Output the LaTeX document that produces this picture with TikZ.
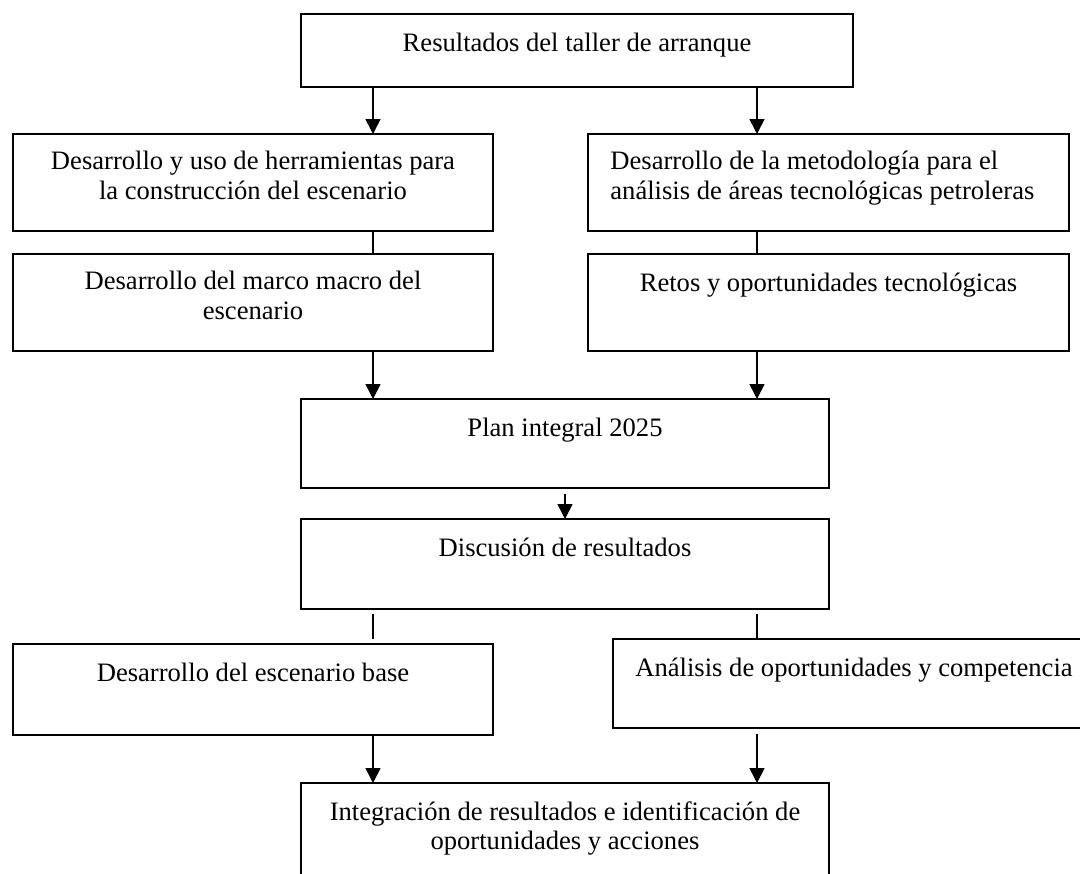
\documentclass[tikz,border=0pt]{standalone}
\usepackage{fontspec}
\setmainfont{Liberation Serif}
\usetikzlibrary{arrows.meta}
\begin{document}
\begin{tikzpicture}[x=0.5pt,y=-0.5pt,
  box/.style={draw, line width=0.8pt, rectangle, inner sep=0pt, outer sep=0pt},
  lbl/.style={anchor=north, inner sep=0pt, align=center,
    font=\fontsize{13.3}{14.75}\selectfont, execute at begin node=\strut},
  lblleft/.style={lbl, anchor=north west, align=left},
  link/.style={line width=0.8pt},
  flow/.style={line width=0.8pt, -{Triangle[length=7.5pt,width=7.5pt]}}]
\useasboundingbox (0,0) rectangle (1080,873);

% column axes for the connectors
\coordinate (cl) at (373,0);
\coordinate (cm) at (565,0);
\coordinate (cr) at (757,0);

% boxes
\node[box, minimum width=276pt, minimum height=36.5pt] (top) at (577,50.5) {};
\node[box, minimum width=240pt, minimum height=48.5pt] (herr) at (253,182.5) {};
\node[box, minimum width=240.5pt, minimum height=48.5pt] (meto) at (828.5,182.5) {};
\node[box, minimum width=240pt, minimum height=48.5pt] (marco) at (253,302.5) {};
\node[box, minimum width=240.5pt, minimum height=48.5pt] (retos) at (828.5,302.5) {};
\node[box, minimum width=264pt, minimum height=44.5pt] (plan) at (565,443.5) {};
\node[box, minimum width=264pt, minimum height=45pt] (disc) at (565,564) {};
\node[box, minimum width=240pt, minimum height=45.5pt] (base) at (253,689.5) {};
\node[box, minimum width=241pt, minimum height=44.5pt] (anal) at (854,683.5) {};
\node[box, minimum width=264pt, minimum height=55pt] (integ) at (565,838) {};

% texts
\node[lbl] (top-t) at ([yshift=-8pt]top.north) {Resultados del taller de arranque};
\node[lbl] (herr-t) at ([yshift=-8.4pt]herr.north) {Desarrollo y uso de herramientas para\\la construcción del escenario};
\node[lblleft] (meto-t) at ([yshift=-8.4pt]meto.north -| 610,0) {Desarrollo de la metodología para el\\análisis de áreas tecnológicas petroleras};
\node[lbl] (marco-t) at ([yshift=-8.4pt]marco.north) {Desarrollo del marco macro del\\escenario};
\node[lbl] (retos-t) at ([yshift=-8.4pt]retos.north) {Retos y oportunidades tecnológicas};
\node[lbl] (plan-t) at ([yshift=-8pt]plan.north) {Plan integral 2025};
\node[lbl] (disc-t) at ([yshift=-8pt]disc.north) {Discusión de resultados};
\node[lbl] (base-t) at ([yshift=-8.4pt]base.north) {Desarrollo del escenario base};
\node[lbl] (anal-t) at ([yshift=-8.4pt]anal.north) {Análisis de oportunidades y competencia};
\node[lbl] (integ-t) at ([yshift=-9pt]integ.north) {Integración de resultados e identificación de\\oportunidades y acciones};

% connectors
\draw[flow] (cl |- top.south) -- (cl |- herr.north);
\draw[flow] (cr |- top.south) -- (cr |- meto.north);
\draw[link] (cl |- herr.south) -- (cl |- marco.north);
\draw[link] (cr |- meto.south) -- (cr |- retos.north);
\draw[flow] (cl |- marco.south) -- (cl |- plan.north);
\draw[flow] (cr |- retos.south) -- (cr |- plan.north);
\draw[flow, shorten <=3pt] (cm |- plan.south) -- (cm |- disc.north);
\draw[link, shorten <=2.5pt, shorten >=2.5pt] (cl |- disc.south) -- (cl |- base.north);
\draw[link, shorten <=2.5pt] (cr |- disc.south) -- (cr |- anal.north);
\draw[flow] (cl |- base.south) -- (cl |- integ.north);
\draw[flow, shorten <=3pt] (cr |- anal.south) -- (cr |- integ.north);
\end{tikzpicture}
\end{document}
